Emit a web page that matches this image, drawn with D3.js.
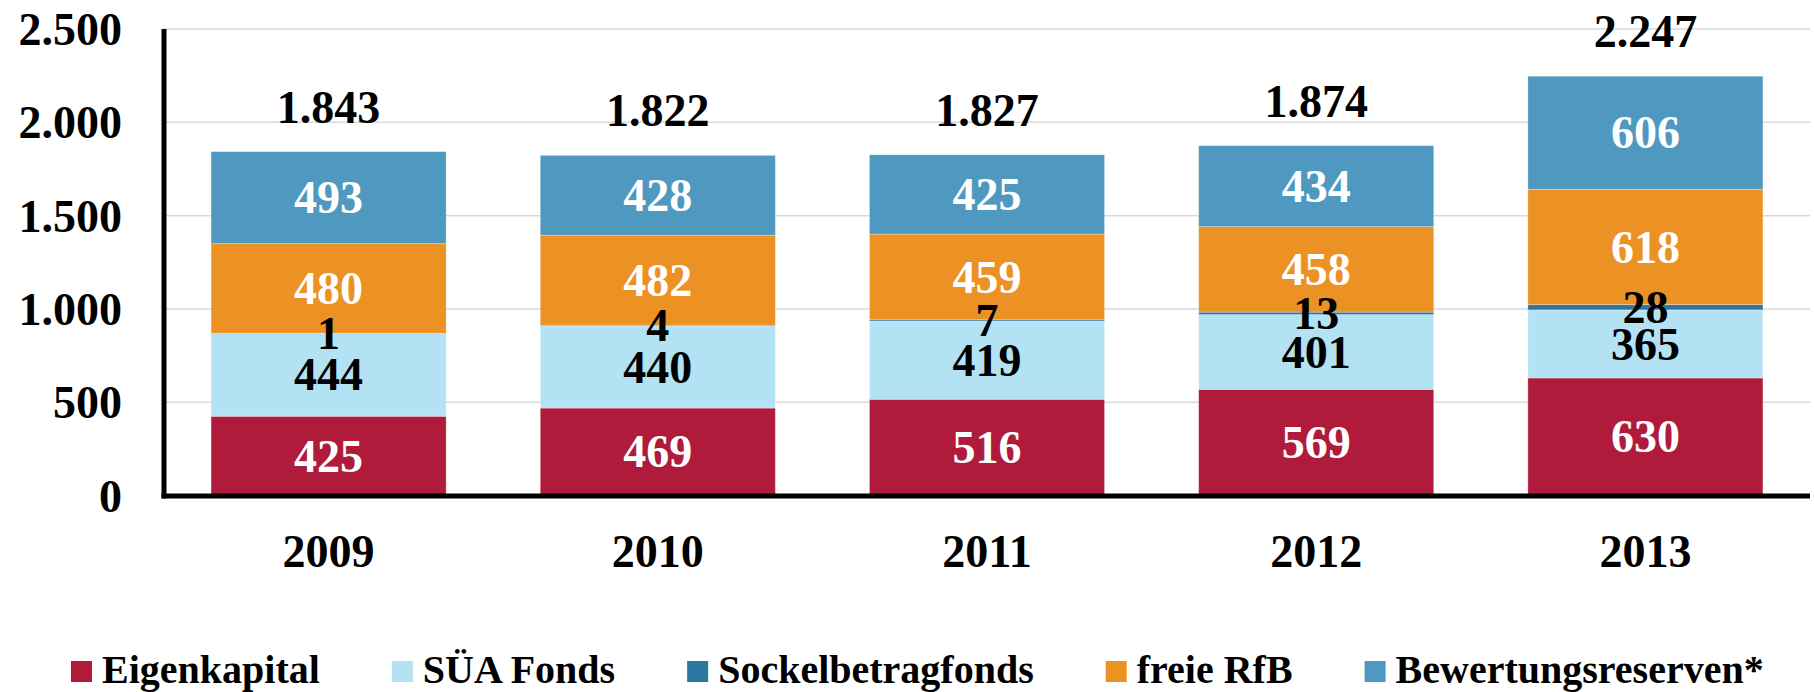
<!DOCTYPE html>
<html>
<head>
<meta charset="utf-8">
<script src="https://cdn.jsdelivr.net/npm/d3@7"></script>
<style>
  html, body { margin: 0; padding: 0; background: #fff; }
  svg { display: block; }
  text { font-family: "Liberation Serif", "Times New Roman", serif; font-weight: bold; }
</style>
</head>
<body>
<svg id="chart" width="1814" height="692"></svg>
<script>
const categories = ["2009", "2010", "2011", "2012", "2013"];
const seriesNames = ["Eigenkapital", "SÜA Fonds", "Sockelbetragfonds", "freie RfB", "Bewertungsreserven*"];
const eigenkapital = [425, 469, 516, 569, 630];
const sueaFonds = [444, 440, 419, 401, 365];
const sockelbetragfonds = [1, 4, 7, 13, 28];
const freieRfB = [480, 482, 459, 458, 618];
const bewertungsreserven = [493, 428, 425, 434, 606];
const totals = [1843, 1822, 1827, 1874, 2247];
const yTicks = [0, 500, 1000, 1500, 2000, 2500];

const seriesValues = [eigenkapital, sueaFonds, sockelbetragfonds, freieRfB, bewertungsreserven];
const colors = ["#B01A3B", "#B4E2F5", "#2D76A1", "#EC9124", "#4F99C1"];
const labelColors = ["#fff", "#000", "#000", "#fff", "#fff"];

const fmt = v => d3.format(",")(v).replace(/,/g, ".");

const svg = d3.select("#chart");
const x0 = 164, x1 = 1810, yBottom = 495.6, yTop = 29;

const x = d3.scaleBand().domain(categories).range([x0, x1]).paddingInner(0.286).paddingOuter(0.143);
const y = d3.scaleLinear().domain([0, 2500]).range([yBottom, yTop]);

const table = categories.map((c, i) => {
  const row = { cat: c };
  seriesNames.forEach((s, j) => row[s] = seriesValues[j][i]);
  return row;
});
const stack = d3.stack().keys(seriesNames)(table);

// gridlines
svg.append("g").selectAll("line").data(yTicks.filter(t => t > 0)).join("line")
  .attr("x1", x0).attr("x2", x1)
  .attr("y1", d => y(d)).attr("y2", d => y(d))
  .attr("stroke", "#d9d9d9").attr("stroke-width", 1.5);

// bars
const layers = svg.append("g").selectAll("g").data(stack).join("g")
  .attr("fill", (d, i) => colors[i]);
layers.selectAll("rect").data(d => d).join("rect")
  .attr("x", d => x(d.data.cat))
  .attr("width", x.bandwidth())
  .attr("y", d => y(d[1]))
  .attr("height", d => y(d[0]) - y(d[1]))
  .attr("stroke", "rgba(255,255,255,0.35)").attr("stroke-width", 0.8);

// segment labels
stack.forEach((layer, j) => {
  svg.append("g").selectAll("text").data(layer).join("text")
    .attr("x", d => x(d.data.cat) + x.bandwidth() / 2)
    .attr("y", d => (y(d[0]) + y(d[1])) / 2)
    .attr("dy", "0.34em")
    .attr("text-anchor", "middle")
    .attr("font-size", 46)
    .attr("fill", labelColors[j])
    .text(d => fmt(d[1] - d[0]));
});

// totals
svg.append("g").selectAll("text").data(categories).join("text")
  .attr("x", d => x(d) + x.bandwidth() / 2)
  .attr("y", (d, i) => y(d3.sum(seriesValues, s => s[i])) - 29)
  .attr("text-anchor", "middle")
  .attr("font-size", 46)
  .attr("fill", "#000")
  .text((d, i) => fmt(totals[i]));

// y axis
const yAxis = d3.axisLeft(y).tickValues(yTicks).tickSize(0).tickPadding(0).tickFormat(fmt);
const gy = svg.append("g").attr("transform", `translate(122,0)`).call(yAxis);
gy.select(".domain").remove();
gy.selectAll("text").attr("font-size", 46).attr("fill", "#000")
  .attr("font-family", '"Liberation Serif", "Times New Roman", serif').attr("font-weight", "bold")
  .attr("x", 0).attr("dy", "0.34em");

// x axis labels
const xAxis = d3.axisBottom(x).tickSize(0).tickPadding(0);
const gx = svg.append("g").attr("transform", `translate(0,567)`).call(xAxis);
gx.select(".domain").remove();
gx.selectAll("text").attr("font-size", 46).attr("fill", "#000")
  .attr("font-family", '"Liberation Serif", "Times New Roman", serif').attr("font-weight", "bold")
  .attr("dy", 0).attr("y", 0);

// axis lines
svg.append("line").attr("x1", x0).attr("x2", x0).attr("y1", yTop).attr("y2", 498.5)
  .attr("stroke", "#000").attr("stroke-width", 5);
svg.append("line").attr("x1", x0 - 2.5).attr("x2", x1).attr("y1", 496).attr("y2", 496)
  .attr("stroke", "#000").attr("stroke-width", 5);

// legend
const legend = svg.append("g");
let lx = 71;
seriesNames.forEach((name, i) => {
  const g = legend.append("g");
  g.append("rect").attr("x", lx).attr("y", 661).attr("width", 21).attr("height", 21).attr("fill", colors[i]);
  const t = g.append("text").attr("x", lx + 31).attr("y", 683).attr("font-size", 40).attr("fill", "#000").text(name);
  const w = t.node().getComputedTextLength();
  lx = lx + 31 + w + 72;
});
</script>
</body>
</html>
